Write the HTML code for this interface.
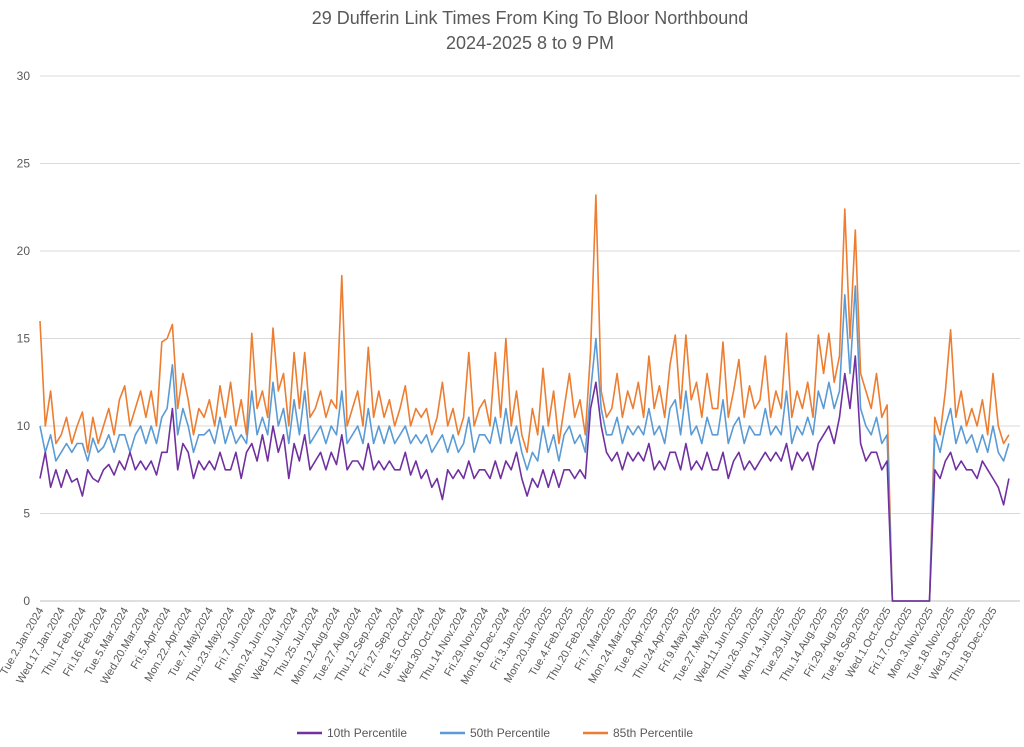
<!DOCTYPE html>
<html><head><meta charset="utf-8"><style>
body{margin:0;background:#fff;font-family:"Liberation Sans",sans-serif}
svg{display:block}
</style></head><body>
<svg id="chart" width="1024" height="747">
<text x="530" y="24" text-anchor="middle" font-size="18" fill="#595959">29 Dufferin Link Times From King To Bloor Northbound</text>
<text x="530" y="49" text-anchor="middle" font-size="18" fill="#595959">2024-2025 8 to 9 PM</text>
<g id="grid"></g><g id="xl"></g><g id="series"></g>
<g>
<line x1="297" y1="733" x2="322" y2="733" stroke="#7030a0" stroke-width="2.5"/><text x="327" y="737" font-size="12" fill="#595959">10th Percentile</text>
<line x1="440" y1="733" x2="465" y2="733" stroke="#5b9bd5" stroke-width="2.5"/><text x="470" y="737" font-size="12" fill="#595959">50th Percentile</text>
<line x1="583" y1="733" x2="608" y2="733" stroke="#ed7d31" stroke-width="2.5"/><text x="613" y="737" font-size="12" fill="#595959">85th Percentile</text>
</g>
</svg>
<script>
const xLabels=["Tue.2.Jan.2024","Wed.17.Jan.2024","Thu.1.Feb.2024","Fri.16.Feb.2024","Tue.5.Mar.2024","Wed.20.Mar.2024","Fri.5.Apr.2024","Mon.22.Apr.2024","Tue.7.May.2024","Thu.23.May.2024","Fri.7.Jun.2024","Mon.24.Jun.2024","Wed.10.Jul.2024","Thu.25.Jul.2024","Mon.12.Aug.2024","Tue.27.Aug.2024","Thu.12.Sep.2024","Fri.27.Sep.2024","Tue.15.Oct.2024","Wed.30.Oct.2024","Thu.14.Nov.2024","Fri.29.Nov.2024","Mon.16.Dec.2024","Fri.3.Jan.2025","Mon.20.Jan.2025","Tue.4.Feb.2025","Thu.20.Feb.2025","Fri.7.Mar.2025","Mon.24.Mar.2025","Tue.8.Apr.2025","Thu.24.Apr.2025","Fri.9.May.2025","Tue.27.May.2025","Wed.11.Jun.2025","Thu.26.Jun.2025","Mon.14.Jul.2025","Tue.29.Jul.2025","Thu.14.Aug.2025","Fri.29.Aug.2025","Tue.16.Sep.2025","Wed.1.Oct.2025","Fri.17.Oct.2025","Mon.3.Nov.2025","Tue.18.Nov.2025","Wed.3.Dec.2025","Thu.18.Dec.2025"];
const yTicks=[0,5,10,15,20,25,30];
const p85=[16,10,12,9, 9.5,10.5,9,10, 10.8,8.5,10.5,9, 10,11,9.5,11.5, 12.3,10,11,12, 10.5,12,10,14.8, 15,15.8,11,13, 11.5,9.5,11,10.5, 11.5,10,12.3,10.5, 12.5,10,11.5,9.5, 15.3,11,12,10.5, 15.6,12,13,10, 14.2,11,14.2,10.5, 11,12,10.5,11.5, 11,18.6,10,11, 12,10,14.5,10.5, 12,10.5,11.5,10, 11,12.3,10,11, 10.5,11,9.5,10.5, 12.5,10,11,9.5, 10.5,14.2,10,11, 11.5,10,14.2,10.5, 15,10,12,9.5, 8.5,11,9.5,13.3, 10,12,9,11, 13,10.5,11.5,9.5, 14.3,23.2,12,10.5, 11,13,10.5,12, 11,12.5,10.5,14, 11,12.3,10.5,13.5, 15.2,11,15.2,11.5, 12.5,10.5,13,11, 11,14.8,10.5,12, 13.8,10.5,12.3,11, 11.5,14,10.5,12, 11,15.3,10.5,12, 11,12.5,10.5,15.2, 13,15.3,12.5,14, 22.4,15,21.2,13, 12,11,13,10.5, 11.2,0,0,0, 0,0,0,0, 0,10.5,9.5,12, 15.5,10.5,12,10, 11,10,11.5,9.5, 13,10,9,9.5];
const p50=[10,8.5,9.5,8, 8.5,9,8.5,9, 9,8,9.3,8.5, 8.8,9.5,8.5,9.5, 9.5,8.5,9.5,10, 9,10,9,10.5, 11,13.5,9.5,11, 10,8.5,9.5,9.5, 9.8,9,10.5,9, 10,9,9.5,9, 12,9.5,10.5,9.5, 12.5,10,11,9, 11.5,9.5,12,9, 9.5,10,9,10, 9.5,12,9,9.5, 10,9,11,9, 10,9,10,9, 9.5,10,9,9.5, 9,9.5,8.5,9, 9.5,8.5,9.5,8.5, 9,10.5,8.5,9.5, 9.5,9,10.5,9, 11,9,10,8.5, 7.5,8.5,8,10, 8.5,9.5,8,9.5, 10,9,9.5,8.5, 12,15,11,9.5, 9.5,10.5,9,10, 9.5,10,9.5,11, 9.5,10,9,11, 11.5,9.5,12,9.5, 10,9,10.5,9.5, 9.5,11.5,9,10, 10.5,9,10,9.5, 9.5,11,9.5,10, 9.5,12,9,10, 9.5,10.5,9.5,12, 11,12.5,11,12, 17.5,13,18,11, 10,9.5,10.5,9, 9.5,0,0,0, 0,0,0,0, 0,9.5,8.5,10, 11,9,10,9, 9.5,8.5,9.5,8.5, 10,8.5,8,9];
const p10=[7,8.5,6.5,7.5, 6.5,7.5,6.8,7, 6,7.5,7,6.8, 7.5,7.8,7.2,8, 7.5,8.5,7.5,8, 7.5,8,7.2,8.5, 8.5,11,7.5,9, 8.5,7,8,7.5, 8,7.5,8.5,7.5, 7.5,8.5,7,8.5, 9,8,9.5,8, 10,8.5,9.5,7, 9,8,9.5,7.5, 8,8.5,7.5,8.5, 7.8,9.5,7.5,8, 8,7.5,9,7.5, 8,7.5,8,7.5, 7.5,8.5,7.2,8, 7,7.5,6.5,7, 5.8,7.5,7,7.5, 7,8,7,7.5, 7.5,7,8,7, 8,7.5,8.5,7, 6,7,6.5,7.5, 6.5,7.5,6.5,7.5, 7.5,7,7.5,7, 11,12.5,10,8.5, 8,8.5,7.5,8.5, 8,8.5,8,9, 7.5,8,7.5,8.5, 8.5,7.5,9,7.5, 8,7.5,8.5,7.5, 7.5,8.5,7,8, 8.5,7.5,8,7.5, 8,8.5,8,8.5, 8,9,7.5,8.5, 8,8.5,7.5,9, 9.5,10,9,10.5, 13,11,14,9, 8,8.5,8.5,7.5, 8,0,0,0, 0,0,0,0, 0,7.5,7,8, 8.5,7.5,8,7.5, 7.5,7,8,7.5, 7,6.5,5.5,7];
const NS="http://www.w3.org/2000/svg";
const X0=40,X1=1020,YB=601,YT=76,YMAX=30;
const lblStep=(993-X0)/(xLabels.length-1);
const xl=i=>X0+i*lblStep;
const xs=i=>X0+i*lblStep/4;
const y=v=>YB-(v/YMAX)*(YB-YT);
const grid=document.getElementById('grid');
yTicks.forEach(t=>{
 const l=document.createElementNS(NS,'line');
 l.setAttribute('x1',X0);l.setAttribute('x2',X1);l.setAttribute('y1',y(t));l.setAttribute('y2',y(t));
 l.setAttribute('stroke',t===0?'#bfbfbf':'#d9d9d9');
 
 
 grid.appendChild(l);
 const tx=document.createElementNS(NS,'text');
 tx.setAttribute('x',30);tx.setAttribute('y',y(t)+4);tx.setAttribute('text-anchor','end');
 tx.setAttribute('font-size','12');tx.setAttribute('fill','#595959');tx.textContent=t;
 
 
 grid.appendChild(tx);
});
const xg=document.getElementById('xl');
xLabels.forEach((s,i)=>{
 const tx=document.createElementNS(NS,'text');
 const x=xl(i)+4,yy=610;
 tx.setAttribute('x',x);tx.setAttribute('y',yy);tx.setAttribute('text-anchor','end');
 tx.setAttribute('transform','rotate(-60 '+x+' '+yy+')');
 tx.setAttribute('font-size','11');tx.setAttribute('fill','#595959');tx.textContent=s;
 
 
 xg.appendChild(tx);
});
const sg=document.getElementById('series');
[[p85,'#ed7d31','series-85th'],[p50,'#5b9bd5','series-50th'],[p10,'#7030a0','series-10th']].forEach(([d,c,n])=>{
 const p=document.createElementNS(NS,'polyline');
 p.setAttribute('points',d.map((v,i)=>xs(i).toFixed(1)+','+y(v).toFixed(1)).join(' '));
 p.setAttribute('fill','none');p.setAttribute('stroke',c);p.setAttribute('stroke-width','1.6');p.setAttribute('stroke-linejoin','round');
 
 
 sg.appendChild(p);
});
</script>
</body></html>
